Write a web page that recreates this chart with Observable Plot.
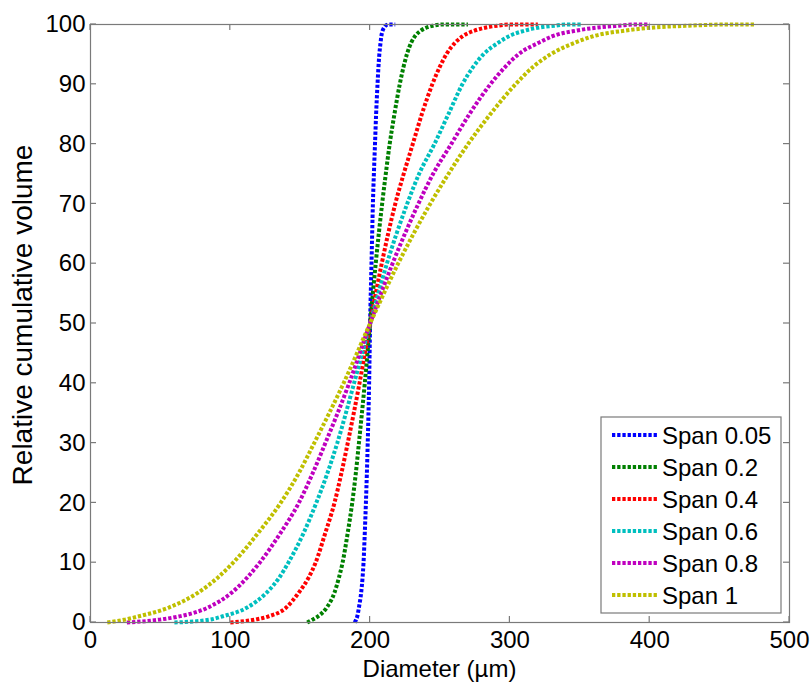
<!DOCTYPE html>
<html><head><meta charset="utf-8">
<script src="https://cdn.jsdelivr.net/npm/d3@7"></script>
<script src="https://cdn.jsdelivr.net/npm/@observablehq/plot@0.6"></script>
<style>
body{margin:0;background:#fff;}
#chart svg{font-family:"Liberation Sans",Arial,sans-serif;}
</style>
</head><body><div id="chart"></div>
<script>
// ---- data ----
const seriesNames = ["Span 0.05","Span 0.2","Span 0.4","Span 0.6","Span 0.8","Span 1"];
// cumulative volume levels (%) at which each curve's diameter was read (first = visible start, last = end of plateau)
const yLevels = [0, 0.5, 1, 2.5, 5, 7.5, 10, 15, 20, 25, 30, 40, 50, 60, 70, 75, 80, 85, 90, 93, 95, 97, 98, 99, 99.5, 99.8, 100, 100];
// diameters (µm) at those levels
const span005 = [189, 190, 190.8, 192, 193.6, 194.6, 195.3, 196.2, 197, 197.7, 198.3, 199.3, 200, 201, 202, 202.7, 203.5, 204.3, 205.3, 206, 206.6, 207.5, 208, 209, 210, 211, 213, 218];
const span02  = [155, 159, 162.5, 169, 174.5, 177.7, 180.3, 184, 187.2, 189.8, 192, 196.2, 200, 204, 208.6, 211.2, 214, 217.4, 221.2, 224, 226.3, 229.5, 232, 236.5, 240.5, 245, 252, 270];
const span04  = [100, 118, 127, 140, 149, 156, 161, 168, 174.5, 179.5, 184, 192.4, 200, 208.3, 218, 224, 230.5, 237, 244.5, 250, 254.5, 261, 266, 275, 283, 291, 300, 320];
const span06  = [60, 86, 94, 112, 126, 135, 141.5, 152.5, 161.5, 169.5, 176.5, 188.5, 200, 212, 226.5, 235, 246, 256, 266, 274, 281, 292, 299, 311, 321, 332, 340, 351];
const span08  = [26, 50, 63, 84, 101, 112, 121, 136, 149, 159, 168, 185, 200, 216, 234.5, 245, 258, 271, 286, 297, 306, 321, 330, 348, 363, 378, 390, 400];
const span1   = [12, 25, 34, 56, 77, 91, 102, 120, 136, 149, 160, 181, 200, 220, 243, 256, 270, 286, 304, 317, 329, 347, 359, 383, 403, 428, 455, 475];
const xTicks = [0, 100, 200, 300, 400, 500];
const yTicks = [0, 10, 20, 30, 40, 50, 60, 70, 80, 90, 100];
const xTitle = "Diameter (µm)";
const yTitle = "Relative cumulative volume";

const allSeries = [span005, span02, span04, span06, span08, span1];
const data = [];
allSeries.forEach((arr, i) => arr.forEach((x, j) => data.push({series: seriesNames[i], x, y: yLevels[j]})));

const colors = ["#0000ff", "#008000", "#ff0000", "#00bfbf", "#bf00bf", "#bfbf00"];
const axisGray = "#7a7a7a";
const lineW = 4, dash = "3.3,1.9";

const chart = Plot.plot({
  width: 812, height: 684,
  marginLeft: 90, marginRight: 23, marginTop: 24, marginBottom: 62,
  style: {fontFamily: '"Liberation Sans", Arial, sans-serif', fontSize: "24px", color: "#000", background: "#fff"},
  x: {domain: [0, 500], label: null},
  y: {domain: [0, 100], label: null},
  color: {domain: seriesNames, range: colors},
  marks: [
    Plot.line(data, {x: "x", y: "y", z: "series", stroke: "series", strokeWidth: lineW, strokeDasharray: dash, strokeLinecap: "butt", strokeLinejoin: "miter", curve: "monotone-x"}),
    Plot.frame({stroke: axisGray, strokeWidth: 1.2}),
    Plot.axisX(xTicks, {tickSize: 0, tickPadding: 8, fontSize: 24, label: null}),
    Plot.axisY(yTicks, {tickSize: 0, tickPadding: 5, fontSize: 24, label: null})
  ]
});

const svg = d3.select(chart);
const sx = chart.scale("x"), sy = chart.scale("y");
const x0 = sx.apply(0), x1 = sx.apply(500), y0 = sy.apply(0), y1 = sy.apply(100);
const tk = 6;
const tg = svg.append("g").attr("stroke", axisGray).attr("stroke-width", 1.2);
xTicks.forEach(v => {
  const px = sx.apply(v);
  tg.append("line").attr("x1", px).attr("x2", px).attr("y1", y0).attr("y2", y0 - tk);
  tg.append("line").attr("x1", px).attr("x2", px).attr("y1", y1).attr("y2", y1 + tk);
});
yTicks.forEach(v => {
  const py = sy.apply(v);
  tg.append("line").attr("x1", x0).attr("x2", x0 + tk).attr("y1", py).attr("y2", py);
  tg.append("line").attr("x1", x1).attr("x2", x1 - tk).attr("y1", py).attr("y2", py);
});

// axis titles
svg.append("text").attr("x", (x0 + x1) / 2).attr("y", 677).attr("text-anchor", "middle")
  .attr("font-size", 24).attr("fill", "#000").text(xTitle);
svg.append("text").attr("transform", `translate(32,${(y0 + y1) / 2 - 8}) rotate(-90)`).attr("text-anchor", "middle")
  .attr("font-size", 28).attr("fill", "#000").text(yTitle);

// legend
const lg = svg.append("g");
lg.append("rect").attr("x", 601).attr("y", 417).attr("width", 180).attr("height", 196)
  .attr("fill", "#fff").attr("stroke", axisGray).attr("stroke-width", 1.2);
seriesNames.forEach((name, i) => {
  const cy = 435 + i * 32;
  lg.append("line").attr("x1", 612).attr("x2", 657).attr("y1", cy).attr("y2", cy)
    .attr("stroke", colors[i]).attr("stroke-width", lineW).attr("stroke-dasharray", dash).attr("stroke-linecap", "butt");
  lg.append("text").attr("x", 662).attr("y", cy + 8.5).attr("text-anchor", "start")
    .attr("font-size", 24).attr("fill", "#000").text(name);
});

document.getElementById("chart").appendChild(chart);
</script>
</body></html>
